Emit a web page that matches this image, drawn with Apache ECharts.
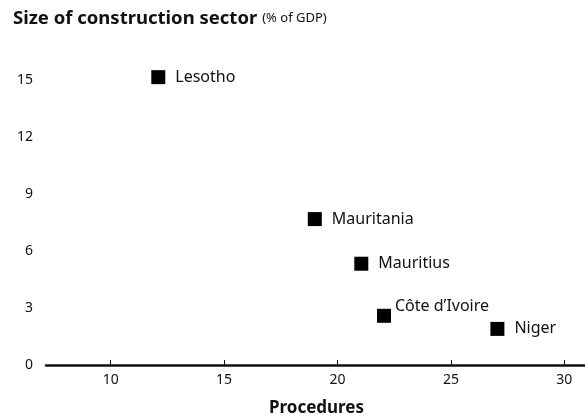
<!DOCTYPE html>
<html>
<head>
<meta charset="utf-8">
<script src="https://cdn.jsdelivr.net/npm/echarts@6/dist/echarts.min.js"></script>
<style>html,body{margin:0;padding:0;background:#fff}#c{width:585px;height:420px}</style>
</head>
<body>
<div id="c"></div>
<script>
var countries = ['Lesotho', 'Mauritania', 'Mauritius', "Côte d\u2019Ivoire", 'Niger'];
var procedures = [12.1, 19.0, 21.05, 22.05, 27.05];
var constructionShare = [15.15, 7.68, 5.33, 2.59, 1.9];
var xTicks = [10, 15, 20, 25, 30];
var yTicks = [0, 3, 6, 9, 12, 15];

var FONT = 'Noto Sans';
var data = countries.map(function (n, i) {
  var d = { name: n, value: [procedures[i], constructionShare[i]] };
  if (i === 3) d.label = { distance: 4, offset: [0, -9] };
  return d;
});

var chart = echarts.init(document.getElementById('c'), null, { renderer: 'canvas' });
chart.setOption({
  animation: false,
  backgroundColor: '#fff',
  title: {
    left: 13, top: 9, padding: 0,
    text: '{a|Size of construction sector} {b|(% of GDP)}',
    textStyle: {
      fontWeight: 'normal',
      rich: {
        a: { fontFamily: FONT, fontWeight: 'bold', fontSize: 18.5, color: '#111' },
        b: { fontFamily: FONT, fontWeight: 'normal', fontSize: 13, color: '#111' }
      }
    }
  },
  grid: { left: 46, right: -2, top: 80, bottom: 55, containLabel: false, outerBoundsMode: 'none' },
  xAxis: {
    type: 'value', min: 7.15, max: 31,
    name: 'Procedures', nameLocation: 'middle', nameGap: 35,
    nameTextStyle: { fontFamily: FONT, fontWeight: 'bold', fontSize: 17, color: '#111' },
    axisLine: { show: true, lineStyle: { color: '#111', width: 2.5 } },
    axisTick: { show: true, inside: true, length: 5, lineStyle: { color: '#111', width: 1 }, customValues: xTicks },
    axisLabel: { customValues: xTicks, fontFamily: FONT, fontSize: 14, color: '#111', margin: 8 },
    splitLine: { show: false }
  },
  yAxis: {
    type: 'value', min: 0, max: 15, interval: 3,
    axisLine: { show: false }, axisTick: { show: false },
    axisLabel: { fontFamily: FONT, fontSize: 14, color: '#111', margin: 13,
      customValues: yTicks },
    splitLine: { show: false }
  },
  series: [{
    type: 'scatter',
    clip: false,
    symbol: 'rect',
    symbolSize: 14,
    itemStyle: { color: '#000', opacity: 1 },
    label: {
      show: true, position: 'right', distance: 10,
      formatter: '{b}', fontFamily: FONT, fontSize: 16, color: '#111'
    },
    data: data
  }]
});
</script>
</body>
</html>
